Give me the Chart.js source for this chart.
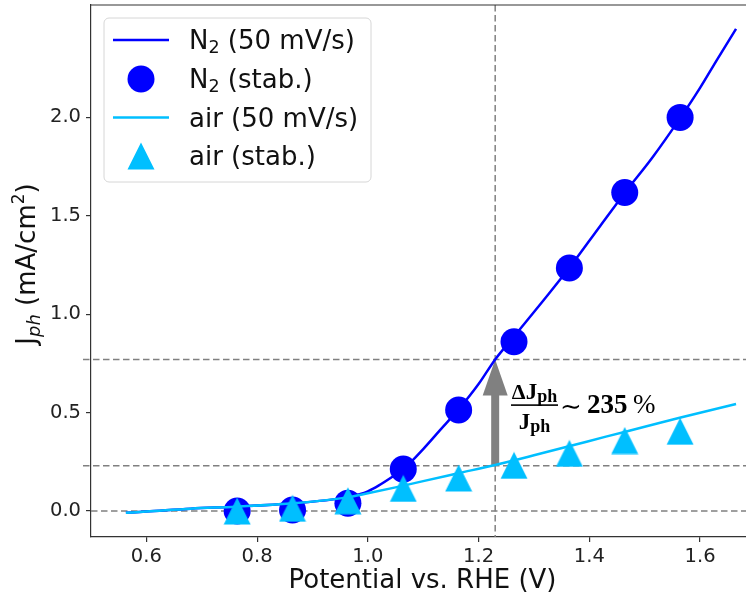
<!DOCTYPE html>
<html><head><meta charset="utf-8">
<script src="https://cdn.jsdelivr.net/npm/chart.js@4/dist/chart.umd.min.js"></script>
<style>html,body{margin:0;padding:0;background:#fff;overflow:hidden}</style>
</head><body>
<canvas id="c" width="746" height="598"></canvas>
<script>
// ---- data ----
const n2SweepV  = [0.563,0.6,0.68,0.76,0.86,0.96,0.985,1.0,1.02,1.045,1.065,1.1,1.13,1.165,1.2,1.23,1.265,1.317,1.365,1.42,1.465,1.515,1.565,1.6,1.63,1.665];
const n2SweepJ  = [-0.009,-0.003,0.012,0.022,0.038,0.068,0.085,0.1,0.13,0.175,0.215,0.315,0.41,0.52,0.645,0.77,0.89,1.07,1.24,1.45,1.62,1.80,2.0,2.15,2.29,2.45];
const airSweepV = [0.563,0.6,0.68,0.76,0.86,0.96,1.0,1.05,1.1,1.165,1.23,1.3,1.365,1.43,1.5,1.565,1.665];
const airSweepJ = [-0.009,-0.003,0.012,0.022,0.038,0.068,0.09,0.12,0.152,0.193,0.234,0.283,0.33,0.378,0.428,0.475,0.544];
const stabV     = [0.764,0.864,0.964,1.064,1.164,1.264,1.364,1.464,1.564];
const n2StabJ   = [0.0,0.005,0.04,0.213,0.513,0.86,1.235,1.618,2.0];
const airStabJ  = [0.0,0.014,0.052,0.115,0.168,0.232,0.293,0.358,0.405];
const xTicks = [0.6,0.8,1.0,1.2,1.4,1.6];
const yTicks = [0.0,0.5,1.0,1.5,2.0];
const refLevels = [0.0,0.23,0.77];
const refPotential = 1.23;
const arrowFrom = 0.234, arrowTo = 0.77;
const xLabel = 'Potential vs. RHE (V)';
const legendNames = ['(50 mV/s)','(stab.)','air (50 mV/s)','air (stab.)'];

const BLUE = '#0000ff', CYAN = '#00bfff', GRAY = '#808080';
const SANS = 'DejaVu Sans', SERIF = 'Liberation Serif';

// matplotlib-like '^' marker (bbox centred on the point)
function makeTri(color){
  const c = document.createElement('canvas'); c.width = 28; c.height = 28;
  const g = c.getContext('2d'); g.fillStyle = color;
  g.beginPath(); g.moveTo(14,0.5); g.lineTo(0.5,27.5); g.lineTo(27.5,27.5); g.closePath(); g.fill();
  return c;
}
const tri = makeTri(CYAN);

function drawRich(ctx, segs, x, y){
  let cx = x;
  for (const s of segs){ ctx.font = s.font; ctx.fillText(s.t, cx, y + (s.dy||0)); cx += ctx.measureText(s.t).width; }
  return cx - x;
}
function richWidth(ctx, segs){
  let w = 0; for (const s of segs){ ctx.font = s.font; w += ctx.measureText(s.t).width; } return w;
}

const refPlugin = {
  id: 'refLines',
  beforeDatasetsDraw(chart){
    const {ctx, chartArea: a, scales: {x, y}} = chart;
    ctx.save();
    ctx.strokeStyle = GRAY; ctx.lineWidth = 1.5; ctx.setLineDash([6.5,3.5]);
    refLevels.forEach(l => {
      const yy = y.getPixelForValue(l);
      const x0 = l === 0 ? a.left : a.left - 8;
      ctx.beginPath(); ctx.moveTo(x0, yy); ctx.lineTo(a.right, yy); ctx.stroke();
    });
    const xx = x.getPixelForValue(refPotential);
    ctx.beginPath(); ctx.moveTo(xx, a.top); ctx.lineTo(xx, a.bottom); ctx.stroke();
    // arrow
    ctx.setLineDash([]);
    const yb = y.getPixelForValue(arrowFrom), yt = y.getPixelForValue(arrowTo);
    const shaftW = 8, headW = 25, headL = 36;
    ctx.fillStyle = GRAY;
    ctx.fillRect(xx - shaftW/2, yt + headL - 1, shaftW, yb - (yt + headL - 1));
    ctx.beginPath(); ctx.moveTo(xx, yt); ctx.lineTo(xx - headW/2, yt + headL); ctx.lineTo(xx + headW/2, yt + headL); ctx.closePath(); ctx.fill();
    ctx.restore();
  },
  afterDatasetsDraw(chart){
    const ctx = chart.ctx;
    ctx.save();
    ctx.fillStyle = '#000'; ctx.textBaseline = 'alphabetic';
    const num = [{t:'Δ', font:'bold 22px '+SERIF},{t:'J', font:'bold 23px '+SERIF},{t:'ph', font:'bold 18px '+SERIF, dy:3}];
    const den = [{t:'J', font:'bold 23px '+SERIF},{t:'ph', font:'bold 18px '+SERIF, dy:3}];
    const cx = 534.5;
    drawRich(ctx, num, cx - richWidth(ctx, num)/2, 399);
    drawRich(ctx, den, cx - richWidth(ctx, den)/2, 429);
    ctx.fillRect(511, 404.3, 47, 1.6);
    drawRich(ctx, [{t:'∼', font:'26px DejaVu Serif'}], 560, 415);
    drawRich(ctx, [{t:'235', font:'bold 27px '+SERIF}], 587, 413);
    drawRich(ctx, [{t:'%', font:'27px '+SERIF}], 633, 413);
    ctx.restore();
  },
  afterDraw(chart){
    const {ctx, chartArea: a} = chart;
    ctx.save();
    // top spine
    ctx.strokeStyle = '#333'; ctx.lineWidth = 1.2;
    ctx.beginPath(); ctx.moveTo(a.left, a.top); ctx.lineTo(a.right, a.top); ctx.stroke();
    // axis titles
    ctx.fillStyle = '#111'; ctx.textBaseline = 'alphabetic';
    ctx.font = '26px ' + SANS; ctx.textAlign = 'center';
    ctx.fillText(xLabel, 422.5, 588);
    ctx.textAlign = 'left';
    const yl = [{t:'J', font:'26px '+SANS},{t:'ph', font:'italic 18px '+SANS, dy:5},{t:' (mA/cm', font:'26px '+SANS},{t:'2', font:'17px '+SANS, dy:-11},{t:')', font:'26px '+SANS}];
    ctx.save(); ctx.translate(35, 264); ctx.rotate(-Math.PI/2);
    drawRich(ctx, yl, -richWidth(ctx, yl)/2, 0);
    ctx.restore();
    // legend
    const bx = 104, by = 18, bw = 267, bh = 164, r = 5;
    ctx.beginPath();
    ctx.moveTo(bx+r, by); ctx.lineTo(bx+bw-r, by); ctx.arcTo(bx+bw, by, bx+bw, by+r, r);
    ctx.lineTo(bx+bw, by+bh-r); ctx.arcTo(bx+bw, by+bh, bx+bw-r, by+bh, r);
    ctx.lineTo(bx+r, by+bh); ctx.arcTo(bx, by+bh, bx, by+bh-r, r);
    ctx.lineTo(bx, by+r); ctx.arcTo(bx, by, bx+r, by, r); ctx.closePath();
    ctx.fillStyle = 'rgba(255,255,255,0.8)'; ctx.fill();
    ctx.strokeStyle = '#d6d6d6'; ctx.lineWidth = 1; ctx.stroke();
    const rows = [40, 79, 117.5, 156];
    const hx0 = 113, hx1 = 169, mx = 141, tx = 189;
    ctx.strokeStyle = BLUE; ctx.lineWidth = 2.5;
    ctx.beginPath(); ctx.moveTo(hx0, rows[0]); ctx.lineTo(hx1, rows[0]); ctx.stroke();
    ctx.fillStyle = BLUE; ctx.beginPath(); ctx.arc(mx, rows[1], 13.5, 0, Math.PI*2); ctx.fill();
    ctx.strokeStyle = CYAN;
    ctx.beginPath(); ctx.moveTo(hx0, rows[2]); ctx.lineTo(hx1, rows[2]); ctx.stroke();
    ctx.drawImage(tri, mx - 14, rows[3] - 14);
    ctx.fillStyle = '#111';
    const F = '26px ' + SANS, Fs = '17.5px ' + SANS;
    drawRich(ctx, [{t:'N', font:F},{t:'2', font:Fs, dy:4},{t:' '+legendNames[0], font:F}], tx, rows[0]+9);
    drawRich(ctx, [{t:'N', font:F},{t:'2', font:Fs, dy:4},{t:' '+legendNames[1], font:F}], tx, rows[1]+9);
    drawRich(ctx, [{t:legendNames[2], font:F}], tx, rows[2]+9);
    drawRich(ctx, [{t:legendNames[3], font:F}], tx, rows[3]+9);
    ctx.restore();
  }
};

const pts = (xs, ys) => xs.map((v, i) => ({x: v, y: ys[i]}));

new Chart(document.getElementById('c'), {
  type: 'scatter',
  data: { datasets: [
    { label: 'N2 (50 mV/s)', type: 'line', data: pts(n2SweepV, n2SweepJ), borderColor: BLUE, borderWidth: 2.5,
      pointRadius: 0, fill: false, cubicInterpolationMode: 'monotone', order: 4 },
    { label: 'N2 (stab.)', data: pts(stabV, n2StabJ), pointStyle: 'circle', pointRadius: 13.5,
      backgroundColor: BLUE, borderWidth: 0, order: 3 },
    { label: 'air (50 mV/s)', type: 'line', data: pts(airSweepV, airSweepJ), borderColor: CYAN, borderWidth: 2.5,
      pointRadius: 0, fill: false, cubicInterpolationMode: 'monotone', order: 2 },
    { label: 'air (stab.)', data: pts(stabV, airStabJ), pointStyle: tri, pointRadius: 14,
      backgroundColor: CYAN, borderWidth: 0, order: 1 }
  ]},
  options: {
    responsive: false, animation: false, events: [],
    layout: { autoPadding: false, padding: { top: 5, left: 0, right: 0, bottom: 0 } },
    plugins: { legend: { display: false }, tooltip: { enabled: false } },
    scales: {
      x: {
        type: 'linear', min: 0.5, max: 1.683,
        afterBuildTicks(s){ s.ticks = xTicks.map(v => ({value: v})); },
        afterFit(s){ s.height = 61; s.paddingLeft = 0; s.paddingRight = 0; },
        grid: { drawOnChartArea: false, drawTicks: true, tickLength: 5, color: '#333', lineWidth: 1.2 },
        border: { display: true, color: '#333', width: 1.2 },
        ticks: { font: { family: SANS, size: 19.5 }, color: '#222', padding: 3, maxRotation: 0, autoSkip: false,
                 callback: v => Number(v).toFixed(1) }
      },
      y: {
        type: 'linear', min: -0.132, max: 2.571,
        afterBuildTicks(s){ s.ticks = yTicks.map(v => ({value: v})); },
        afterFit(s){ s.width = 91; s.paddingTop = 0; s.paddingBottom = 0; },
        grid: { drawOnChartArea: false, drawTicks: true, tickLength: 5, color: '#333', lineWidth: 1.2 },
        border: { display: true, color: '#333', width: 1.2 },
        ticks: { font: { family: SANS, size: 19.5 }, color: '#222', padding: 5, autoSkip: false,
                 callback: v => Number(v).toFixed(1) }
      }
    }
  },
  plugins: [refPlugin]
});
</script>
</body></html>
